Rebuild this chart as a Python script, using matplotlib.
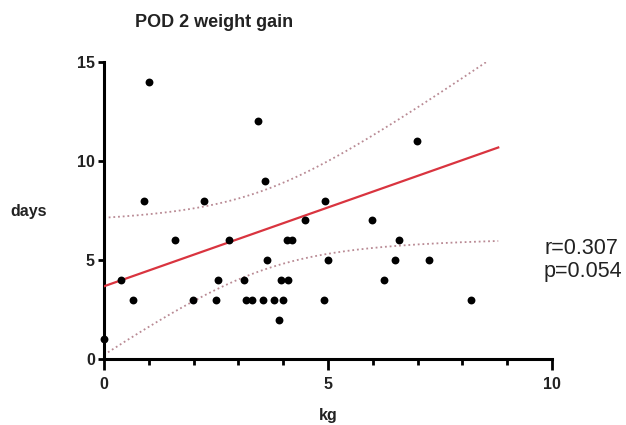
import numpy as np
import matplotlib
matplotlib.use("Agg")
import matplotlib.pyplot as plt

# ---- data ----
weight_kg = [0.0, 0.39, 0.64, 0.89, 1.00, 1.59, 1.99, 2.24, 2.49, 2.54, 2.79,
             3.13, 3.17, 3.30, 3.44, 3.54, 3.59, 3.64, 3.79, 3.90, 3.94, 3.99,
             4.08, 4.10, 4.19, 4.49, 4.90, 4.94, 4.99, 5.99, 6.24, 6.50, 6.59,
             6.99, 7.25, 8.19]
days = [1, 4, 3, 8, 14, 6, 3, 8, 3, 4, 6,
        4, 3, 3, 12, 3, 9, 5, 3, 2, 4, 3,
        6, 4, 6, 7, 3, 8, 5, 7, 4, 5, 6,
        11, 5, 3]

# regression line and 95% confidence band as drawn in the reference
fit_intercept = 3.68
fit_slope = 0.795
fit_x_range = [0.0, 8.8]
ci_min_halfwidth = 2.0
ci_center_x = 3.5
ci_spread = 0.162

x_ticks = [0, 5, 10]
y_ticks = [0, 5, 10, 15]
title = "POD 2 weight gain"
x_label = "kg"
y_label = "days"
stats_text = "r=0.307\np=0.054"

# ---- figure ----
plt.rcParams['font.family'] = ['Liberation Sans', 'DejaVu Sans']
fig = plt.figure(figsize=(6.26, 4.25), dpi=100)
W, H = 626, 425
ax = fig.add_axes([104 / W, (H - 359.3) / H, (552 - 104) / W, (359.3 - 61.7) / H])

xf = np.linspace(fit_x_range[0], fit_x_range[1], 200)
yf = fit_intercept + fit_slope * xf
hw = ci_min_halfwidth * np.sqrt(1 + ci_spread * (xf - ci_center_x) ** 2)

ax.plot(xf, yf + hw, color='#b98a94', lw=1.3, linestyle=(0, (1, 1.6)), zorder=2)
ax.plot(xf, yf - hw, color='#b98a94', lw=1.3, linestyle=(0, (1, 1.6)), zorder=2)
ax.plot(xf, yf, color='#d9343f', lw=1.6, zorder=3)
ax.scatter(weight_kg, days, s=32, color='black', zorder=4, clip_on=False, linewidths=0)

ax.set_xlim(0, 10)
ax.set_ylim(0, 15)
ax.set_xticks(x_ticks)
ax.set_yticks(y_ticks)
ax.set_xticks(np.arange(0, 11, 1), minor=True)
for s in ['top', 'right']:
    ax.spines[s].set_visible(False)
for s in ['left', 'bottom']:
    ax.spines[s].set_linewidth(2.2)
ax.tick_params(axis='x', which='major', length=8, width=2, pad=5, labelsize=11.5)
ax.tick_params(axis='x', which='minor', length=4, width=2)
ax.tick_params(axis='y', which='major', length=4.5, width=2, pad=2, labelsize=11.5)
for lab in ax.get_xticklabels() + ax.get_yticklabels():
    lab.set_fontweight('bold')
    lab.set_color('#222222')

fig.text(135 / W, 1 - 27.3 / H, title, fontsize=13, fontweight='bold',
         ha='left', va='baseline', color='#222222')
fig.text(10 / W, 1 - 216 / H, y_label, fontsize=11.5, fontweight='bold',
         ha='left', va='baseline', color='#222222')
fig.text(328 / W, 1 - 420 / H, x_label, fontsize=11.5, fontweight='bold',
         ha='center', va='baseline', color='#222222')
fig.text(544 / W, 1 - 277 / H, stats_text, fontsize=15.5, ha='left', va='baseline',
         linespacing=1.15, color='#222222')

fig.savefig("out.png", dpi=100)
